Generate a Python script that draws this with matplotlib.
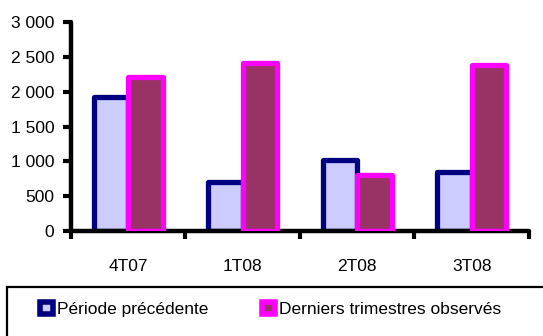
import matplotlib.pyplot as plt
from matplotlib.patches import Patch, Rectangle
from matplotlib.ticker import FuncFormatter
import numpy as np

plt.rcParams["font.family"] = ["Liberation Sans", "DejaVu Sans"]
plt.rcParams["font.size"] = 12.5

trimestres = ["4T07", "1T08", "2T08", "3T08"]
periode_precedente = [1930, 710, 1020, 845]
derniers_trimestres = [2220, 2420, 810, 2380]

bleu_fond, bleu_bord = "#CCCCFF", "#000080"
prune_fond, prune_bord = "#993366", "#FF00FF"

fig = plt.figure(figsize=(5.43, 3.36), dpi=100)
ax = fig.add_axes([0.1308, 0.3125, 0.8432, 0.6211])

x = np.arange(len(trimestres))
largeur = 0.3
ax.bar(x - 0.15, periode_precedente, largeur, color=bleu_fond,
       edgecolor=bleu_bord, linewidth=3.8, joinstyle="round", zorder=2)
ax.bar(x + 0.15, derniers_trimestres, largeur, color=prune_fond,
       edgecolor=prune_bord, linewidth=3.8, joinstyle="round", zorder=3)

ax.set_xlim(-0.5, len(trimestres) - 0.5)
ax.set_ylim(0, 3000)
ax.set_yticks(range(0, 3001, 500))
ax.yaxis.set_major_formatter(FuncFormatter(lambda v, _: f"{int(v):,}".replace(",", " ")))

# libellés au centre des groupes, graduations entre les groupes
ax.set_xticks(x)
ax.set_xticklabels(trimestres)
ax.set_xticks(np.arange(-0.5, len(trimestres)), minor=True)
ax.tick_params(axis="x", which="major", length=0, pad=20)
ax.tick_params(axis="x", which="minor", length=6, width=3, direction="out")
ax.tick_params(axis="y", length=6, width=3, direction="out", pad=6)

for cote in ["top", "right"]:
    ax.spines[cote].set_visible(False)
for cote in ["left", "bottom"]:
    ax.spines[cote].set_linewidth(3.2)
    ax.spines[cote].set_capstyle("round")

# cadre de la légende
fig.patches.append(Rectangle((7 / 543, -0.2), 1.2, 0.2 + 49 / 336,
                             transform=fig.transFigure, fill=False,
                             edgecolor="black", linewidth=1.6))

poignees = [
    Patch(facecolor=bleu_fond, edgecolor=bleu_bord, linewidth=4, label="Période précédente"),
    Patch(facecolor=prune_fond, edgecolor=prune_bord, linewidth=4, label="Derniers trimestres observés"),
]
fig.legend(handles=poignees, loc="center left", bbox_to_anchor=(40 / 543, 1 - 309.5 / 336),
           ncol=2, frameon=False, borderpad=0, borderaxespad=0,
           handlelength=0.72, handleheight=0.72, handletextpad=0.25,
           columnspacing=3.1)

fig.savefig("out.png", dpi=100)
